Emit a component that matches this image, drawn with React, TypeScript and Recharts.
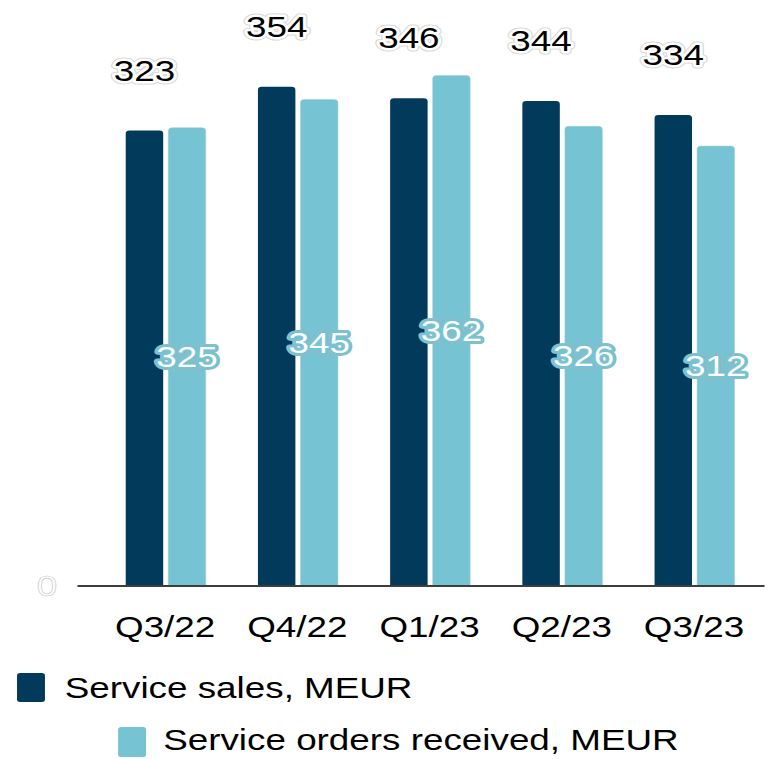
import React from 'react';
import { BarChart, Bar, XAxis, YAxis, LabelList } from 'recharts';

const quarters = ['Q3/22', 'Q4/22', 'Q1/23', 'Q2/23', 'Q3/23'];
const serviceSales = [323, 354, 346, 344, 334];
const serviceOrders = [325, 345, 362, 326, 312];

const DARK = '#023a5b';
const LIGHT = '#75c3d3';
const FONT = '"Liberation Sans", Arial, sans-serif';

// the reference is stretched horizontally, so the chart is drawn narrow and scaled
const STRETCH = 1.27;
const W = 607;

const data = quarters.map((q, i) => ({
  quarter: q,
  sales: serviceSales[i],
  orders: serviceOrders[i],
}));

function QuarterTick(props: any) {
  const { x, y, payload } = props;
  return (
    <text x={x} y={y + 51} textAnchor="middle" fontSize={29} fontFamily={FONT} fill="#000">
      {payload.value}
    </text>
  );
}

function ZeroTick(props: any) {
  const { x, y, payload } = props;
  return (
    <text x={x - 16} y={y + 10} textAnchor="end" fontSize={29} fontFamily={FONT}
      fill="#fff" stroke="#c8c8c8" strokeWidth={0.6}>
      {payload.value}
    </text>
  );
}

function SalesLabel(props: any) {
  const { x, y, width, value } = props;
  const cx = x + width / 2;
  const ty = y - 50;
  return (
    <g fontSize={29} fontFamily={FONT} textAnchor="middle">
      <text x={cx} y={ty} fill="#fff" stroke="#d8d8d8" strokeWidth={7} strokeLinejoin="round">{value}</text>
      <text x={cx} y={ty} fill="#000" stroke="#fff" strokeWidth={5} strokeLinejoin="round" paintOrder="stroke">{value}</text>
    </g>
  );
}

function OrdersLabel(props: any) {
  const { x, y, width, height, value } = props;
  const cx = x + width / 2;
  const ty = y + height / 2 + 10;
  return (
    <g fontSize={29} fontFamily={FONT} textAnchor="middle">
      <text x={cx} y={ty} fill="none" stroke="#9ab7bf" strokeWidth={6} strokeLinejoin="round">{value}</text>
      <text x={cx} y={ty} fill="#fff" stroke={LIGHT} strokeWidth={4.5} strokeLinejoin="round" paintOrder="stroke">{value}</text>
    </g>
  );
}

export default function App() {
  return (
    <div
      style={{
        position: 'absolute',
        left: 0,
        top: 0,
        width: W,
        height: 759,
        transform: `scaleX(${STRETCH})`,
        transformOrigin: '0 0',
        background: '#fff',
        fontFamily: FONT,
      }}
    >
      <BarChart
        width={W}
        height={660}
        data={data}
        margin={{ top: 22, right: 5, bottom: 14, left: 0 }}
        barSize={29.5}
        barGap={4}
      >
        <XAxis
          dataKey="quarter"
          axisLine={{ stroke: '#3d3d3d', strokeWidth: 2 }}
          tickLine={false}
          tickSize={0}
          tickMargin={0}
          height={60}
          padding={{ left: 17, right: 3.5 }}
          tick={<QuarterTick />}
          interval={0}
        />
        <YAxis
          domain={[0, 400]}
          ticks={[0]}
          width={61}
          axisLine={false}
          tickLine={false}
          tickSize={0}
          tickMargin={0}
          tick={<ZeroTick />}
        />
        <Bar dataKey="sales" fill={DARK} radius={[3, 3, 0, 0]} isAnimationActive={false}>
          <LabelList dataKey="sales" content={<SalesLabel />} />
        </Bar>
        <Bar dataKey="orders" fill={LIGHT} stroke="#a9c9d1" strokeWidth={0.5} radius={[3, 3, 0, 0]} isAnimationActive={false}>
          <LabelList dataKey="orders" content={<OrdersLabel />} />
        </Bar>
      </BarChart>
      <svg width={W} height={99} style={{ position: 'absolute', left: 0, top: 660 }}>
        <rect x={13.4} y={13} width={22} height={29} rx={2.5} fill={DARK} />
        <text x={51} y={38} fontSize={29} fontFamily={FONT} fill="#000">Service sales, MEUR</text>
        <rect x={93} y={67} width={22} height={30} rx={2.5} fill={LIGHT} />
        <text x={128.5} y={90} fontSize={29} fontFamily={FONT} fill="#000">Service orders received, MEUR</text>
      </svg>
    </div>
  );
}
